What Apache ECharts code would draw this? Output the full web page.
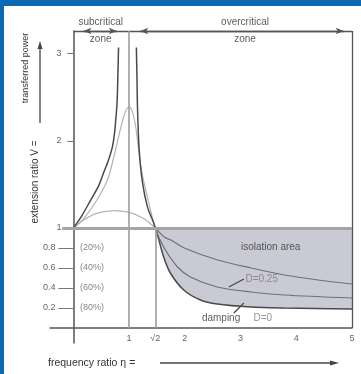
<!DOCTYPE html>
<html>
<head>
<meta charset="utf-8">
<script src="https://cdn.jsdelivr.net/npm/echarts@6/dist/echarts.min.js"></script>
<style>
  html, body { margin: 0; padding: 0; background: #fff; }
  #wrap { position: relative; width: 361px; height: 374px; }
  #chart { position: absolute; left: 0; top: 0; width: 361px; height: 374px; }
  .edgeTop { position: absolute; left: 0; top: 0; width: 361px; height: 6px; background: #0b69b2; }
  .edgeLeft { position: absolute; left: 0; top: 0; width: 4px; height: 374px; background: #0b69b2; }
</style>
</head>
<body>
<div id="wrap">
  <div id="chart"></div>
  <div class="edgeTop"></div>
  <div class="edgeLeft"></div>
</div>
<script>
// frequency ratio (eta) and extension ratio V
const d0LeftEta = [0, 0.15, 0.31, 0.45, 0.54, 0.63, 0.70, 0.74, 0.76, 0.78, 0.79, 0.80, 0.81]
const d0LeftV = [1.0, 1.14, 1.32, 1.48, 1.63, 1.78, 1.93, 2.10, 2.24, 2.40, 2.55, 2.80, 3.07]
const d0RightEta = [1.13, 1.14, 1.15, 1.18, 1.24, 1.33, 1.44, 1.47, 1.51, 1.62, 1.74, 1.98, 2.28, 2.58, 3.18, 3.78, 5.0]
const d0RightV = [3.07, 2.75, 2.39, 1.90, 1.52, 1.24, 1.06, 1.00, 0.93, 0.71, 0.55, 0.38, 0.28, 0.24, 0.21, 0.20, 0.19]
const d25Eta = [0, 0.2, 0.43, 0.61, 0.72, 0.85, 0.93, 1.0, 1.06, 1.12, 1.18, 1.24, 1.35, 1.47, 1.62, 1.87, 2.10, 2.58, 3.18, 3.78, 5.0]
const d25V = [1.0, 1.12, 1.33, 1.55, 1.80, 2.15, 2.33, 2.39, 2.33, 2.15, 1.85, 1.60, 1.30, 1.00, 0.81, 0.61, 0.51, 0.41, 0.36, 0.33, 0.30]
const dHiEta = [0, 0.18, 0.43, 0.72, 1.0, 1.26, 1.47, 1.63, 1.75, 1.99, 2.59, 3.19, 3.79, 4.39, 5.0]
const dHiV = [1.0, 1.09, 1.17, 1.20, 1.18, 1.11, 1.00, 0.91, 0.88, 0.80, 0.68, 0.60, 0.53, 0.48, 0.44]

const xTicks = [1, 1.47, 2, 3, 4, 5]
const xTickLabels = ['1', '\u221A2', '2', '3', '4', '5']
const upperTicks = [1, 2, 3]
const lowerTicks = [0.2, 0.4, 0.6, 0.8]
const pctLabels = ['(80%)', '(60%)', '(40%)', '(20%)']

const zones = [[0.49, 'subcritical'], [3.08, 'overcritical']]
const notes = [[3.54, 0.81, 'isolation area'], [3.38, 0.49, 'D=0.25'], [2.65, 0.10, 'damping'], [3.40, 0.10, 'D=0']]

const TOP = 3.26
const X_MIN = -0.42
const Y_MIN = -0.15
const font = "'Liberation Sans', Arial, sans-serif"
const zip = (a, b) => a.map((v, i) => [v, b[i]])

const chart = echarts.init(document.getElementById('chart'))

function curve(name, data, grid, color, width, extra) {
    return Object.assign({
        name: name,
        type: 'line',
        xAxisIndex: grid,
        yAxisIndex: grid,
        data: data,
        smooth: 0.3,
        showSymbol: false,
        clip: true,
        lineStyle: { color: color, width: width },
        silent: true
    }, extra || {})
}

function seg(a, b, style) {
    return [{ coord: a, lineStyle: style }, { coord: b }]
}

const frameStyle = { color: '#555', width: 1.3, type: 'solid' }
const greyStyle = { color: '#9c9c9c', width: 1.6, type: 'solid' }

// the axes cross at (0, 0); grid is 302px wide over 5.42 units, lower grid 100px per unit
const yOffset = X_MIN * 302 / (5 - X_MIN)
const xOffset = Y_MIN * 100

const option = {
    animation: false,
    textStyle: { fontFamily: font },
    grid: [
        { left: 50, top: 31, width: 302, height: 197 },
        { left: 50, top: 228, width: 302, height: 115 }
    ],
    xAxis: [
        { gridIndex: 0, type: 'value', min: X_MIN, max: 5, show: false },
        {
            gridIndex: 1, type: 'value', min: X_MIN, max: 5, offset: xOffset,
            axisLine: { onZero: false, lineStyle: { color: '#555', width: 1.5 } },
            axisTick: { show: false },
            splitLine: { show: false },
            axisLabel: {
                customValues: xTicks, color: '#666', fontSize: 9, margin: 6,
                formatter: v => xTickLabels[xTicks.indexOf(v)]
            }
        }
    ],
    yAxis: [
        {
            gridIndex: 0, type: 'value', min: 1, max: TOP, offset: yOffset,
            axisLine: { show: true, onZero: false, lineStyle: { color: '#555', width: 1.5 } },
            axisTick: { show: true, customValues: [2, 3], length: 6, lineStyle: { color: '#777' } },
            splitLine: { show: false },
            axisLabel: { customValues: upperTicks, color: '#666', fontSize: 9, margin: 12 }
        },
        {
            gridIndex: 1, type: 'value', min: Y_MIN, max: 1, offset: yOffset,
            axisLine: { show: true, onZero: false, lineStyle: { color: '#555', width: 1.5 } },
            axisTick: { show: true, customValues: lowerTicks, length: 15, lineStyle: { color: '#777' } },
            splitLine: { show: false },
            axisLabel: { customValues: lowerTicks, color: '#666', fontSize: 9, margin: 18 }
        }
    ],
    series: [
        // isolation area: between the undamped curve and V = 1
        curve('fill', zip(d0RightEta, d0RightV), 1, '#4a4a4a', 1.5, {
            areaStyle: { origin: 'end', color: '#c9cad3', opacity: 1 }, z: 1
        }),
        curve('high damping', zip(dHiEta, dHiV), 0, '#b4b4b4', 1.2),
        curve('high damping', zip(dHiEta, dHiV), 1, '#70707c', 1.2),
        curve('D=0.25', zip(d25Eta, d25V), 0, '#b4b4b4', 1.2),
        curve('D=0.25', zip(d25Eta, d25V), 1, '#70707c', 1.2),
        curve('D=0 left', zip(d0LeftEta, d0LeftV), 0, '#4a4a4a', 1.5),
        curve('D=0 right', zip(d0RightEta, d0RightV), 0, '#4a4a4a', 1.5),
        {
            type: 'line', xAxisIndex: 0, yAxisIndex: 0, data: [], clip: false, silent: true,
            markLine: {
                silent: true, symbol: 'none', label: { show: false },
                data: [
                    seg([0, TOP], [5, TOP], frameStyle),
                    seg([5, 1], [5, TOP], frameStyle),
                    seg([1, 1], [1, TOP], greyStyle)
                ]
            }
        },
        {
            type: 'line', xAxisIndex: 0, yAxisIndex: 0, data: [], clip: false, silent: true,
            markLine: {
                silent: true, symbol: ['arrow', 'arrow'], symbolSize: [5, 8], label: { show: false },
                data: [
                    seg([0.18, TOP], [0.78, TOP], frameStyle),
                    seg([1.2, TOP], [4.85, TOP], frameStyle)
                ]
            }
        },
        {
            type: 'line', xAxisIndex: 1, yAxisIndex: 1, data: [], clip: false, silent: true, z: 3,
            markLine: {
                silent: true, symbol: 'none', label: { show: false },
                data: [
                    seg([5, 0], [5, 1], frameStyle),
                    seg([1, 0], [1, 1], greyStyle),
                    seg([1.47, 0], [1.47, 1], greyStyle),
                    seg([-0.2, 1], [5, 1], { color: '#a4a4a8', width: 3, type: 'solid' }),
                    seg([2.79, 0.41], [3.06, 0.49], { color: '#444', width: 1.2, type: 'solid' }),
                    seg([2.88, 0.15], [3.06, 0.25], { color: '#444', width: 1.2, type: 'solid' })
                ]
            }
        },
        {
            type: 'scatter', xAxisIndex: 0, yAxisIndex: 0, clip: false, silent: true,
            symbolSize: 1, itemStyle: { color: 'rgba(0,0,0,0)' },
            data: zones.map(z => [z[0], TOP, z[1]]),
            label: {
                show: true, position: 'inside', color: '#333', fontSize: 10, lineHeight: 17,
                formatter: p => p.value[2] + '\nzone'
            }
        },
        {
            type: 'scatter', xAxisIndex: 1, yAxisIndex: 1, clip: false, silent: true,
            symbolSize: 1, itemStyle: { color: 'rgba(0,0,0,0)' },
            data: lowerTicks.map((v, i) => [0, v, pctLabels[i]]),
            label: {
                show: true, position: 'right', distance: 6, color: '#666', fontSize: 9,
                formatter: p => p.value[2]
            }
        },
        {
            type: 'scatter', xAxisIndex: 1, yAxisIndex: 1, clip: false, silent: true, z: 4,
            symbolSize: 1, itemStyle: { color: 'rgba(0,0,0,0)' },
            data: notes.map((n, i) => ({
                value: n,
                label: { color: i === 0 || i === 2 ? '#333' : '#7a7484' }
            })),
            label: {
                show: true, position: 'inside', fontSize: 10,
                formatter: p => p.value[2]
            }
        }
    ],
    graphic: [
        { type: 'text', x: 35, y: 182, rotation: Math.PI / 2,
          style: { text: 'extension ratio V =', fill: '#333', font: "10px " + font, align: 'center', verticalAlign: 'middle' } },
        { type: 'text', x: 26, y: 68, rotation: Math.PI / 2,
          style: { text: 'transferred power', fill: '#333', font: "9px " + font, align: 'center', verticalAlign: 'middle' } },
        { type: 'line', shape: { x1: 40, y1: 123, x2: 40, y2: 47 }, style: { stroke: '#444', lineWidth: 1.3 } },
        { type: 'polygon', shape: { points: [[40, 41], [37.5, 49], [42.5, 49]] }, style: { fill: '#444' } },
        { type: 'text', x: 48, y: 363,
          style: { text: 'frequency ratio \u03B7 =', fill: '#333', font: "10.5px " + font, align: 'left', verticalAlign: 'middle' } },
        { type: 'line', shape: { x1: 160, y1: 363, x2: 332, y2: 363 }, style: { stroke: '#444', lineWidth: 1.3 } },
        { type: 'polygon', shape: { points: [[339, 363], [330, 360.5], [330, 365.5]] }, style: { fill: '#444' } }
    ]
}

chart.setOption(option)
</script>
</body>
</html>
